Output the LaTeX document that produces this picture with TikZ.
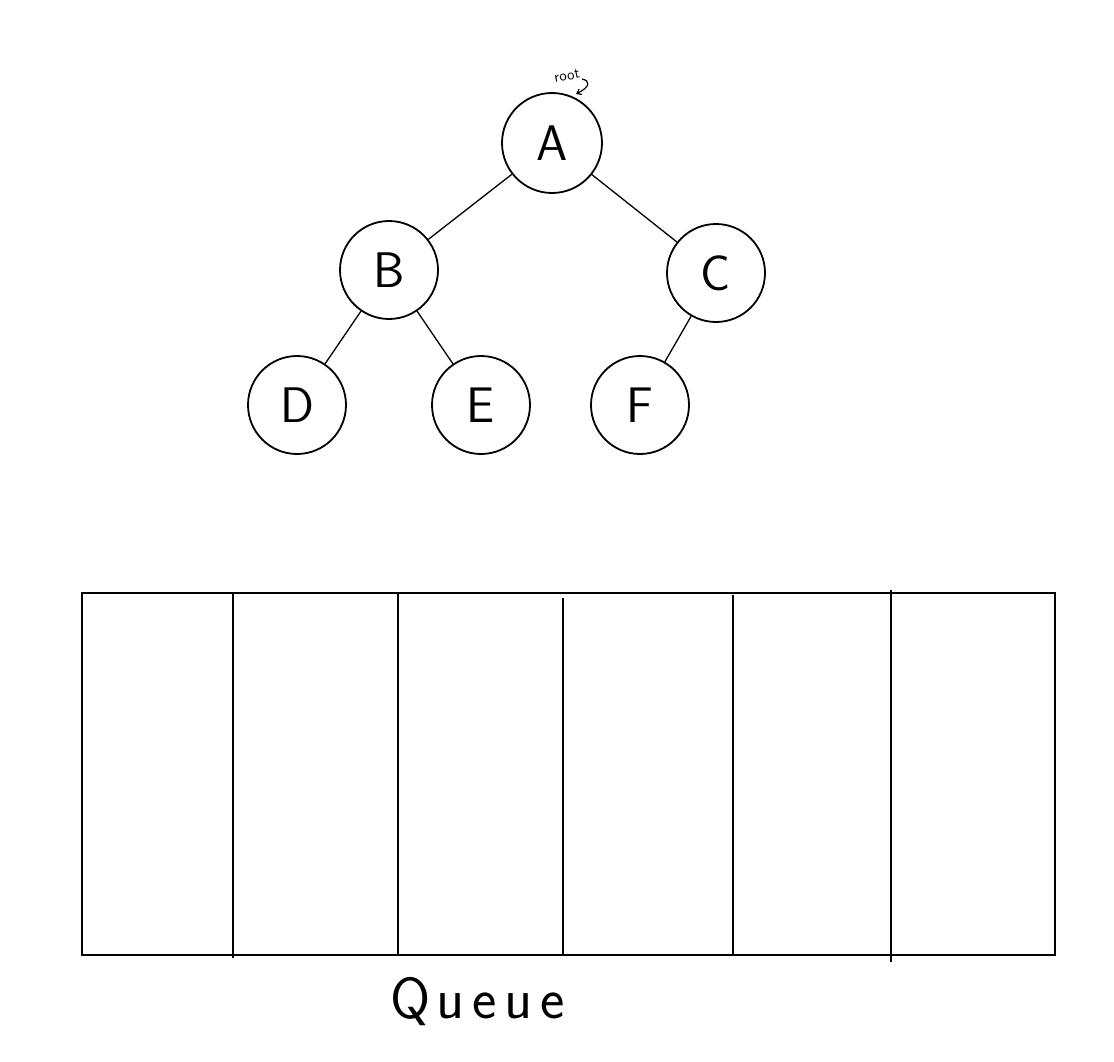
\documentclass[tikz,border=0pt]{standalone}
\usetikzlibrary{arrows.meta}
\begin{document}
\begin{tikzpicture}[x=1pt,y=-1pt,
  treenode/.style={circle,draw,line width=1.8pt,minimum size=98pt,inner sep=0pt,
    font=\sffamily\fontsize{50}{50}\selectfont},
  edge/.style={line width=1.3pt},
  cellwall/.style={line width=1.4pt},
  frame/.style={line width=2.2pt}]
\useasboundingbox (0,0) rectangle (1114,1062);

% tree
\node[treenode,minimum size=100pt] (A) at (552,143) {A};
\node[treenode] (B) at (389,270) {B};
\node[treenode] (C) at (716,273) {C};
\node[treenode] (D) at (297,405) {D};
\node[treenode] (E) at (481,405) {E};
\node[treenode] (F) at (640,405) {F};
\draw[edge] (A) -- (B);
\draw[edge] (A) -- (C);
\draw[edge] (B) -- (D);
\draw[edge] (B) -- (E);
\draw[edge] (C) -- (F);

% root marker
\node[font=\sffamily\fontsize{15}{15}\selectfont,rotate=10] (rootlbl) at (567,76) {root};
\coordinate (rs) at (582,79);
\coordinate (re) at (576,94);
\draw[line width=1.2pt,-{Straight Barb[length=4pt,width=6pt]}] (rs) .. controls (591,81) and (590,87) .. (re);

% queue
\coordinate (q1) at (82,593);
\coordinate (q2) at (1055,955);
\draw[frame] (q1) rectangle (q2);
\coordinate (w1a) at (233,593); \coordinate (w1b) at (233,958);
\coordinate (w2a) at (398,594); \coordinate (w2b) at (398,955);
\coordinate (w3a) at (563,598); \coordinate (w3b) at (563,954);
\coordinate (w4a) at (733,595); \coordinate (w4b) at (733,954);
\coordinate (w5a) at (891,590); \coordinate (w5b) at (891,962);
\draw[cellwall] (w1a) -- (w1b);
\draw[cellwall] (w2a) -- (w2b);
\draw[cellwall] (w3a) -- (w3b);
\draw[cellwall] (w4a) -- (w4b);
\draw[cellwall] (w5a) -- (w5b);

\node[font=\sffamily\fontsize{58}{58}\selectfont,anchor=base west,inner sep=0pt] (qlbl) at (390,1018)
  {Q\kern6pt u\kern8pt e\kern8pt u\kern8pt e};
\end{tikzpicture}
\end{document}
